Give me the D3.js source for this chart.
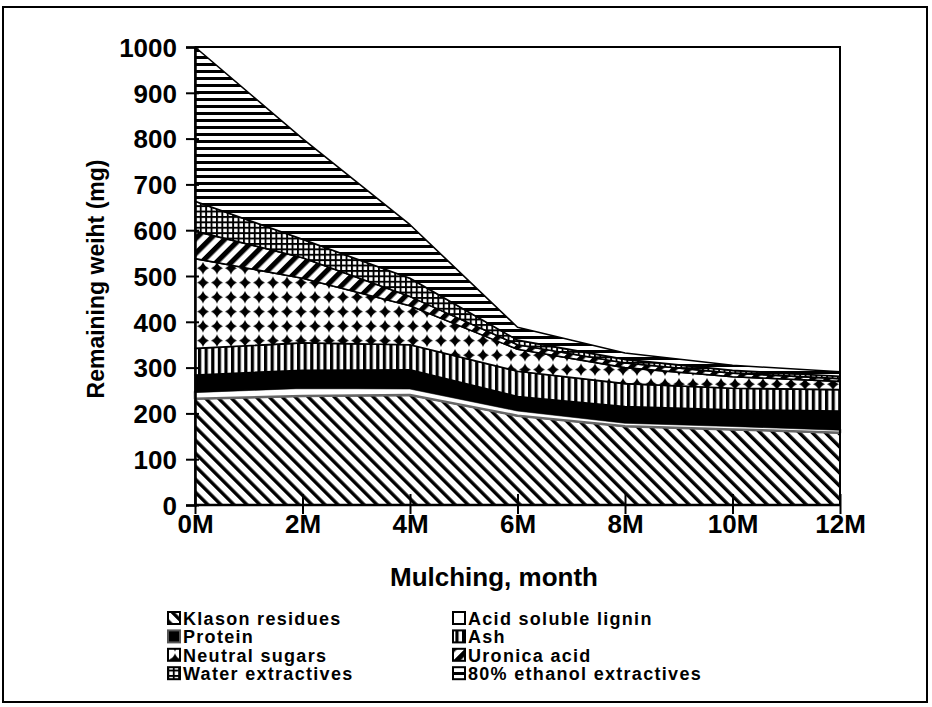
<!DOCTYPE html>
<html>
<head>
<meta charset="utf-8">
<script src="https://cdn.jsdelivr.net/npm/d3@7"></script>
<style>
  body { margin: 0; background: #fff; }
  svg text { font-family: "Liberation Sans", Arial, sans-serif; font-weight: bold; fill: #000; }
</style>
</head>
<body>
<div id="chart"></div>
<script>
// data (mg)
var months = ["0M", "2M", "4M", "6M", "8M", "10M", "12M"];
var klason   = [232, 238, 240, 195, 172, 165, 158];
var asl      = [15, 18, 15, 12, 8, 8, 7];
var protein  = [37, 38, 40, 30, 35, 35, 40];
var ash      = [58, 60, 55, 55, 50, 47, 47];
var neutral  = [196, 141, 85, 48, 35, 25, 18];
var uronic   = [60, 45, 20, 10, 10, 8, 6];
var water    = [65, 40, 40, 10, 8, 6, 5];
var ethanol  = [337, 220, 117, 28, 14, 11, 10];
var yTicks = [0, 100, 200, 300, 400, 500, 600, 700, 800, 900, 1000];

var seriesNames = ["Klason residues", "Acid soluble lignin", "Protein", "Ash",
  "Neutral sugars", "Uronica acid", "Water extractives", "80% ethanol extractives"];
var seriesVals = [klason, asl, protein, ash, neutral, uronic, water, ethanol];
var fills = ["url(#pKlason)", "#fff", "#000", "url(#pAsh)",
  "url(#pNeutral)", "url(#pUronic)", "url(#pWater)", "url(#pEthanol)"];

const width = 932, height = 707;
const svg = d3.select("#chart").append("svg")
  .attr("width", width).attr("height", height);

// outer frame
svg.append("rect")
  .attr("x", 3).attr("y", 7).attr("width", 924).attr("height", 695)
  .attr("fill", "none").attr("stroke", "#000").attr("stroke-width", 2);

// hatch patterns
const defs = svg.append("defs");
function stripes(id, period, thick, angle) {
  var p = defs.append("pattern").attr("id", id)
    .attr("patternUnits", "userSpaceOnUse")
    .attr("width", period).attr("height", period);
  if (angle != null) p.attr("patternTransform", "rotate(" + angle + ")");
  p.append("rect").attr("width", period).attr("height", period).attr("fill", "#fff");
  p.append("rect").attr("x", 0).attr("y", 0).attr("width", thick).attr("height", period).attr("fill", "#000");
  return p;
}
stripes("pKlason", 9.2, 3.4, -45);
stripes("pUronic", 10.5, 5.2, 45);
stripes("pAsh", 6.6, 3.2, null);
stripes("pEthanol", 7, 3, 90);
// grid
var pw = defs.append("pattern").attr("id", "pWater")
  .attr("patternUnits", "userSpaceOnUse").attr("width", 5.4).attr("height", 5.4);
pw.append("rect").attr("width", 5.4).attr("height", 5.4).attr("fill", "#fff");
pw.append("rect").attr("width", 1.9).attr("height", 5.4).attr("fill", "#000");
pw.append("rect").attr("width", 5.4).attr("height", 1.9).attr("fill", "#000");
// diamonds
var pn = defs.append("pattern").attr("id", "pNeutral")
  .attr("patternUnits", "userSpaceOnUse").attr("width", 14).attr("height", 14.5);
pn.append("rect").attr("width", 14).attr("height", 14.5).attr("fill", "#fff");
pn.append("path").attr("d", "M7,1 Q8.6,5.4 13,7.2 Q8.6,9 7,13.5 Q5.4,9 1,7.2 Q5.4,5.4 7,1Z").attr("fill", "#000");

// plot area
const x0 = 195, x1 = 840, y0 = 505, y1 = 47;
const x = d3.scalePoint().domain(months).range([x0, x1]);
const y = d3.scaleLinear().domain([0, 1000]).range([y0, y1]);

var table = months.map(function (m, i) {
  var row = { month: m };
  seriesNames.forEach(function (s, k) { row[s] = seriesVals[k][i]; });
  return row;
});
const stacked = d3.stack().keys(seriesNames)(table);

const area = d3.area()
  .x(d => x(d.data.month))
  .y0(d => y(d[0]))
  .y1(d => y(d[1]));

svg.selectAll("path.layer")
  .data(stacked)
  .join("path")
  .attr("class", "layer")
  .attr("d", area)
  .attr("fill", (d, i) => fills[i])
  .attr("stroke", (d, i) => i == 1 ? "#666" : "#000")
  .attr("stroke-width", (d, i) => i == 1 ? 2.5 : 1.6)
  .attr("stroke-linejoin", "round");

// top and right frame of the plot
svg.append("path")
  .attr("d", `M${x0},${y1}H${x1}V${y0}`)
  .attr("fill", "none").attr("stroke", "#000").attr("stroke-width", 2);

// y axis
const yAxis = svg.append("g")
  .attr("transform", `translate(${x0},0)`)
  .call(d3.axisLeft(y).tickValues(yTicks).tickFormat(d3.format("d")).tickSize(9).tickPadding(10));
yAxis.select(".domain").attr("stroke-width", 2.5);
yAxis.selectAll(".tick line").attr("x2", -9).attr("x1", 4).attr("stroke-width", 2);
yAxis.selectAll(".tick text").style("font-size", "26px").attr("x", -18).attr("dy", "0.36em");

// x axis
const xAxis = svg.append("g")
  .attr("transform", `translate(0,${y0})`)
  .call(d3.axisBottom(x).tickSize(9).tickPadding(8));
xAxis.select(".domain").attr("stroke-width", 2.5).attr("d", `M${x0},0H${x1}`);
xAxis.selectAll(".tick line").attr("y1", -11).attr("y2", 9).attr("stroke-width", 2);
xAxis.selectAll(".tick text").style("font-size", "26px").attr("y", 10).attr("dy", "0.71em");

// axis titles
svg.append("text")
  .attr("transform", "translate(104,279) rotate(-90)")
  .attr("text-anchor", "middle")
  .style("font-size", "23px")
  .text("Remaining weiht (mg)");
svg.append("text")
  .attr("x", 494).attr("y", 586)
  .attr("text-anchor", "middle")
  .style("font-size", "26px")
  .text("Mulching, month");

// legend
var legendOrder = [0, 1, 2, 3, 4, 5, 6, 7];
const legend = svg.append("g");
legendOrder.forEach(function (k, j) {
  var col = j % 2, row = Math.floor(j / 2);
  var lx = col == 0 ? 168 : 453;
  var ly = 612 + row * 18.4;
  legend.append("rect")
    .attr("x", lx).attr("y", ly).attr("width", 12).attr("height", 12)
    .attr("fill", fills[k])
    .attr("stroke", k == 2 ? "#555" : "#000").attr("stroke-width", 2);
  legend.append("text")
    .attr("x", lx + 15).attr("y", ly + 13)
    .style("font-size", "18px")
    .style("letter-spacing", "1.3px")
    .text(seriesNames[k]);
});
</script>
</body>
</html>
